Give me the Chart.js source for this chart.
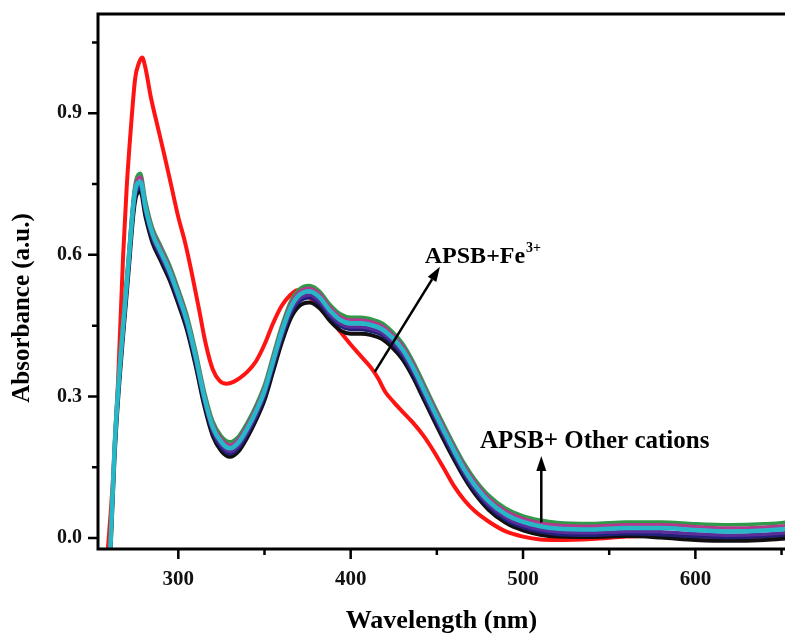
<!DOCTYPE html>
<html>
<head>
<meta charset="utf-8">
<title>APSB absorbance</title>
<script src="https://cdn.jsdelivr.net/npm/chart.js@4.4.1/dist/chart.umd.min.js"></script>
<style>
  html, body { margin: 0; padding: 0; background: #fff; }
  #wrap { width: 785px; height: 635px; }
</style>
</head>
<body>
<div id="wrap"><canvas id="chart" width="785" height="635"></canvas></div>
<script>
// ---- data ----
// free APSB (red)
const redWavelength = [259, 262, 265, 268, 270, 272.5, 275, 277, 279, 281, 284, 288, 292, 296, 300, 304, 308, 312, 316, 320,
  324, 328, 332, 336, 340, 345, 350, 355, 360, 365, 369, 372, 376, 382, 388, 394, 400, 406, 412, 416,
  420, 425, 430, 436, 442, 448, 454, 460, 466, 472, 480, 490, 500, 510, 520, 540, 560, 575, 600, 620, 640, 655];
const redAbs = [-0.03, 0.12, 0.33, 0.60, 0.74, 0.87, 0.975, 1.005, 1.018, 0.995, 0.935, 0.872, 0.81, 0.745, 0.68, 0.625, 0.558, 0.485, 0.41, 0.357,
  0.333, 0.327, 0.331, 0.34, 0.352, 0.374, 0.41, 0.455, 0.492, 0.515, 0.525, 0.522, 0.51, 0.49, 0.465, 0.437, 0.41, 0.385, 0.36, 0.338,
  0.31, 0.288, 0.268, 0.245, 0.218, 0.185, 0.148, 0.11, 0.08, 0.057, 0.035, 0.014, 0.003, -0.003, -0.004, -0.002, 0.003, 0.005, 0.001, -0.001, 0.001, 0.003];

// APSB + other cations (shared wavelength grid)
const cationWavelength = [260.5, 263, 265, 268, 271, 274, 275.5, 278, 281, 285, 290, 295, 300, 305, 310, 315, 320, 325, 330, 335,
  340, 345, 350, 355, 360, 365, 370, 376, 382, 388, 394, 400, 406, 412, 418, 424, 430, 436, 442, 448,
  454, 460, 466, 472, 480, 490, 500, 510, 520, 540, 560, 580, 600, 620, 640, 655];
const greenAbs = [-0.02, 0.205, 0.325, 0.465, 0.595, 0.725, 0.76, 0.773, 0.715, 0.658, 0.618, 0.578, 0.528, 0.473, 0.398, 0.313, 0.248, 0.216, 0.204, 0.216,
  0.245, 0.281, 0.325, 0.388, 0.45, 0.5, 0.527, 0.535, 0.523, 0.495, 0.475, 0.468, 0.468, 0.464, 0.456, 0.438, 0.413, 0.376, 0.331, 0.285,
  0.241, 0.198, 0.158, 0.125, 0.091, 0.063, 0.047, 0.038, 0.033, 0.031, 0.034, 0.034, 0.03, 0.028, 0.03, 0.034];
const magentaAbs = [-0.025, 0.198, 0.318, 0.458, 0.588, 0.718, 0.753, 0.765, 0.708, 0.652, 0.612, 0.572, 0.522, 0.467, 0.392, 0.307, 0.242, 0.21, 0.197, 0.21,
  0.239, 0.275, 0.319, 0.382, 0.444, 0.494, 0.521, 0.529, 0.517, 0.489, 0.469, 0.462, 0.462, 0.458, 0.45, 0.432, 0.407, 0.37, 0.325, 0.279,
  0.235, 0.192, 0.152, 0.119, 0.085, 0.057, 0.041, 0.032, 0.027, 0.025, 0.028, 0.028, 0.024, 0.021, 0.023, 0.027];
const cyanAbs = [-0.03, 0.19, 0.31, 0.45, 0.58, 0.71, 0.745, 0.755, 0.70, 0.645, 0.605, 0.565, 0.515, 0.46, 0.385, 0.30, 0.235, 0.203, 0.19, 0.203,
  0.232, 0.268, 0.312, 0.375, 0.437, 0.487, 0.514, 0.523, 0.51, 0.482, 0.462, 0.455, 0.455, 0.451, 0.443, 0.425, 0.40, 0.363, 0.318, 0.272,
  0.228, 0.185, 0.145, 0.112, 0.078, 0.05, 0.034, 0.025, 0.02, 0.018, 0.021, 0.021, 0.017, 0.014, 0.016, 0.02];
const purpleAbs = [-0.035, 0.183, 0.302, 0.442, 0.572, 0.702, 0.738, 0.747, 0.693, 0.638, 0.598, 0.558, 0.508, 0.453, 0.378, 0.293, 0.228, 0.196, 0.183, 0.196,
  0.225, 0.261, 0.305, 0.367, 0.429, 0.479, 0.506, 0.515, 0.502, 0.474, 0.454, 0.447, 0.447, 0.443, 0.435, 0.417, 0.392, 0.355, 0.31, 0.264,
  0.22, 0.178, 0.138, 0.105, 0.071, 0.043, 0.027, 0.018, 0.013, 0.011, 0.014, 0.013, 0.009, 0.006, 0.008, 0.012];
const navyAbs = [-0.04, 0.178, 0.297, 0.437, 0.566, 0.696, 0.732, 0.742, 0.688, 0.633, 0.593, 0.553, 0.503, 0.448, 0.373, 0.288, 0.223, 0.191, 0.178, 0.191,
  0.22, 0.256, 0.3, 0.362, 0.423, 0.473, 0.5, 0.509, 0.496, 0.469, 0.449, 0.442, 0.442, 0.438, 0.43, 0.412, 0.387, 0.35, 0.305, 0.259,
  0.215, 0.173, 0.133, 0.1, 0.066, 0.038, 0.022, 0.013, 0.008, 0.006, 0.009, 0.007, 0.003, 0.001, 0.003, 0.007];
const blackAbs = [-0.045, 0.17, 0.29, 0.43, 0.558, 0.688, 0.724, 0.734, 0.68, 0.626, 0.586, 0.546, 0.496, 0.441, 0.366, 0.281, 0.216, 0.184, 0.172, 0.184,
  0.213, 0.249, 0.292, 0.353, 0.414, 0.464, 0.491, 0.499, 0.487, 0.46, 0.44, 0.433, 0.433, 0.43, 0.422, 0.404, 0.379, 0.342, 0.297, 0.252,
  0.208, 0.166, 0.127, 0.094, 0.06, 0.032, 0.016, 0.007, 0.003, 0.002, 0.004, 0.001, -0.004, -0.006, -0.004, 0.0];

// ticks
const xTickValues = [300, 400, 500, 600];
const xMinorTicks = [350, 450, 550, 650];
const yTickValues = [0, 0.3, 0.6, 0.9];
const yTickLabels = ['0.0', '0.3', '0.6', '0.9'];
const yMinorTicks = [0.15, 0.45, 0.75, 1.05];

const SERIF = '"Liberation Serif", "Times New Roman", serif';

function toPoints(xs, ys) {
  return ys.map((v, i) => ({ x: xs[i], y: v }));
}

function lineSet(label, xs, ys, color, width, order) {
  return {
    label,
    data: toPoints(xs, ys),
    borderColor: color,
    borderWidth: width,
    pointRadius: 0,
    cubicInterpolationMode: 'monotone',
    fill: false,
    order,
  };
}

/**
 * Axis frame, ticks, titles and the two arrow annotations
 */
const framePlugin = {
  id: 'frame',
  afterDraw(chart) {
    const { ctx, chartArea: a, scales } = chart;
    const xs = scales.x, ys = scales.y;
    ctx.save();
    ctx.strokeStyle = '#000';
    ctx.fillStyle = '#000';
    ctx.lineCap = 'butt';

    // box (left, bottom, top)
    ctx.lineWidth = 3;
    ctx.beginPath();
    ctx.moveTo(a.right + 2, a.top);
    ctx.lineTo(a.left, a.top);
    ctx.lineTo(a.left, a.bottom);
    ctx.lineTo(a.right + 2, a.bottom);
    ctx.stroke();

    // tick marks, outward
    ctx.lineWidth = 2.5;
    ctx.beginPath();
    xTickValues.forEach(v => { const p = xs.getPixelForValue(v); ctx.moveTo(p, a.bottom); ctx.lineTo(p, a.bottom + 10); });
    xMinorTicks.forEach(v => { const p = xs.getPixelForValue(v); if (p < a.right) { ctx.moveTo(p, a.bottom); ctx.lineTo(p, a.bottom + 6); } });
    yTickValues.forEach(v => { const p = ys.getPixelForValue(v); ctx.moveTo(a.left, p); ctx.lineTo(a.left - 10, p); });
    yMinorTicks.forEach(v => { const p = ys.getPixelForValue(v); ctx.moveTo(a.left, p); ctx.lineTo(a.left - 6, p); });
    ctx.stroke();

    // axis titles
    ctx.textAlign = 'center';
    ctx.textBaseline = 'middle';
    ctx.font = 'bold 26px ' + SERIF;
    ctx.fillText('Wavelength (nm)', (a.left + a.right) / 2, 621);
    ctx.save();
    ctx.translate(23, 308);
    ctx.rotate(-Math.PI / 2);
    ctx.font = 'bold 25px ' + SERIF;
    ctx.fillText('Absorbance (a.u.)', 0, 0);
    ctx.restore();

    // arrows
    const arrow = (x0, y0, x1, y1) => {
      const ang = Math.atan2(y1 - y0, x1 - x0);
      const head = 15, half = 5;
      const bx = x1 - head * Math.cos(ang), by = y1 - head * Math.sin(ang);
      ctx.lineWidth = 2.5;
      ctx.beginPath();
      ctx.moveTo(x0, y0);
      ctx.lineTo(bx, by);
      ctx.stroke();
      ctx.beginPath();
      ctx.moveTo(x1, y1);
      ctx.lineTo(bx + half * Math.sin(ang), by - half * Math.cos(ang));
      ctx.lineTo(bx - half * Math.sin(ang), by + half * Math.cos(ang));
      ctx.closePath();
      ctx.fill();
    };
    arrow(xs.getPixelForValue(414), ys.getPixelForValue(0.352), xs.getPixelForValue(451.8), ys.getPixelForValue(0.575));
    arrow(xs.getPixelForValue(510.6), ys.getPixelForValue(0.033), xs.getPixelForValue(510.6), ys.getPixelForValue(0.174));

    // labels
    ctx.textAlign = 'left';
    ctx.textBaseline = 'alphabetic';
    ctx.font = 'bold 24px ' + SERIF;
    const fx = xs.getPixelForValue(443), fy = ys.getPixelForValue(0.583);
    ctx.fillText('APSB+Fe', fx, fy);
    const w = ctx.measureText('APSB+Fe').width;
    ctx.font = 'bold 14px ' + SERIF;
    ctx.fillText('3+', fx + w + 1, fy - 11);
    ctx.font = 'bold 25px ' + SERIF;
    ctx.fillText('APSB+ Other cations', xs.getPixelForValue(475), ys.getPixelForValue(0.19));

    ctx.restore();
  },
};

const ctx = document.getElementById('chart').getContext('2d');

new Chart(ctx, {
  type: 'line',
  data: {
    datasets: [
      lineSet('APSB', redWavelength, redAbs, '#ff1414', 4, 10),
      lineSet('Black', cationWavelength, blackAbs, '#101010', 4, 6),
      lineSet('Navy', cationWavelength, navyAbs, '#20207a', 3.5, 5),
      lineSet('Purple', cationWavelength, purpleAbs, '#5a2d98', 3.5, 4),
      lineSet('Green', cationWavelength, greenAbs, '#2f9a48', 3.5, 3),
      lineSet('Magenta', cationWavelength, magentaAbs, '#b4388c', 3.5, 2),
      lineSet('Cyan', cationWavelength, cyanAbs, '#26b8c6', 4.5, 1),
    ],
  },
  options: {
    responsive: false,
    animation: false,
    layout: { padding: { top: 14, right: 0, left: 0, bottom: 0 } },
    plugins: {
      legend: { display: false },
      tooltip: { enabled: false },
    },
    scales: {
      x: {
        type: 'linear',
        min: 253.4,
        max: 652,
        afterBuildTicks: (scale) => { scale.ticks = xTickValues.map(v => ({ value: v })); },
        afterFit: (scale) => { scale.height = 86; },
        // ticks drawn by the frame plugin; tickLength only offsets the labels
        grid: { display: false, drawTicks: true, tickLength: 18 },
        border: { display: false },
        ticks: {
          autoSkip: false,
          maxRotation: 0,
          padding: 0,
          color: '#111',
          font: { family: SERIF, size: 21, weight: 'bold' },
          callback: (value) => String(value),
        },
      },
      y: {
        min: -0.0233,
        max: 1.1104,
        afterBuildTicks: (scale) => { scale.ticks = yTickValues.map(v => ({ value: v })); },
        afterFit: (scale) => { scale.width = 98; },
        grid: { display: false, drawTicks: true, tickLength: 16 },
        border: { display: false },
        ticks: {
          autoSkip: false,
          padding: 0,
          color: '#111',
          font: { family: SERIF, size: 20, weight: 'bold' },
          callback: (value) => yTickLabels[yTickValues.indexOf(value)],
        },
      },
    },
  },
  plugins: [framePlugin],
});
</script>
</body>
</html>
